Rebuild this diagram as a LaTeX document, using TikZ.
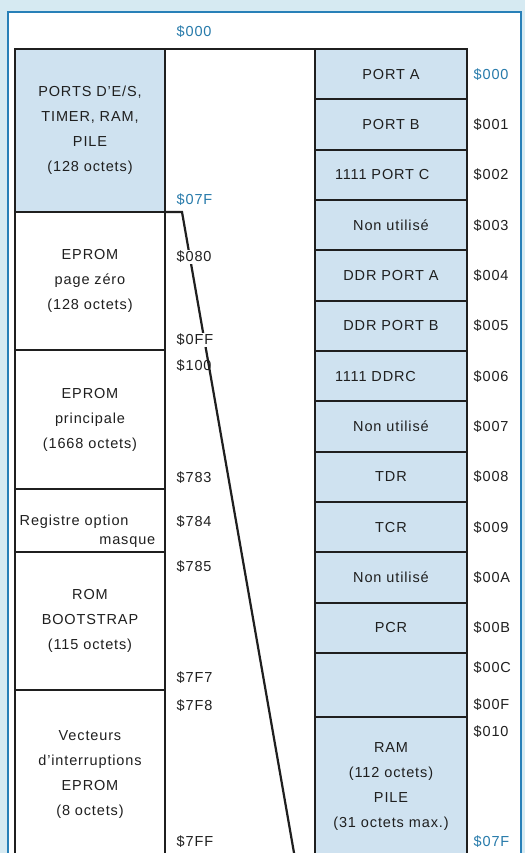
\documentclass[tikz,border=0pt]{standalone}
\usepackage{fontspec}
\setmainfont{Liberation Sans}[LetterSpace=6]
\usepackage{tikz}
\usetikzlibrary{positioning}
\definecolor{cellblue}{RGB}{207,226,240}
\definecolor{addrblue}{RGB}{38,122,170}
\definecolor{pageblue}{RGB}{214,234,242}
\definecolor{frameblue}{RGB}{40,128,184}

\begin{document}
\begin{tikzpicture}[
        % one unit = one pixel of the page, y running down
        x=1pt, y=-1pt,
        node distance=0pt,
        % Memory areas (left column): white, dark border, stacked
        area/.style = {rectangle, draw=black!88, line width=2.2pt, outer sep=0pt,
                       minimum width=150pt, text width=138pt, align=center,
                       font=\fontsize{14.5}{25}\selectfont, text=black!88},
        % Registers (right column): light blue cells
        cell/.style = {rectangle, draw=black!88, line width=2.2pt, outer sep=0pt, fill=cellblue,
                       minimum width=152pt, minimum height=50.33pt, align=center,
                       font=\fontsize{14.5}{25}\selectfont, text=black!88},
        bitcell/.style = {cell, text width=112pt, align=left},
        % Addresses
        addr/.style = {inner sep=1.5pt, font=\fontsize{14.5}{15}\selectfont, text=black!88},
        hiaddr/.style = {addr, text=addrblue},
        optlbl/.style = {inner sep=1.5pt, font=\fontsize{14.5}{15}\selectfont, text=black!88},
        % Zoom line from page zero to the register map
        zoomline/.style = {draw=black!88, line width=2.2pt}
    ]

    \useasboundingbox (0,0) rectangle (525,853);
    \clip (0,0) rectangle (525,853);
    \fill[pageblue] (0,0) rectangle (525,853);
    \draw[frameblue, line width=1.5pt, fill=white] (8,12) rectangle (521,900);

    % --- Left column: memory map ---
    \node[area, fill=cellblue, minimum height=163pt, anchor=north west] (io) at (15,49)
        {PORTS D'E/S,\\TIMER, RAM,\\PILE\\(128 octets)};
    \node[area, minimum height=138pt, below=of io] (page0) {EPROM\\page zéro\\(128 octets)};
    \node[area, minimum height=139pt, below=of page0] (main) {EPROM\\principale\\(1668 octets)};
    \node[area, minimum height=63pt, below=of main] (option) {};
    \node[optlbl, anchor=west] (regopt) at ([xshift=3pt, yshift=-1.5pt]option.west) {Registre option};
    \node[optlbl, anchor=east] (masque) at ([xshift=-8pt, yshift=-21.5pt]option.east) {masque};
    \node[area, minimum height=138pt, below=of option] (boot) {ROM\\BOOTSTRAP\\(115 octets)};
    \node[area, minimum height=170pt, below=of boot] (vectors)
        {Vecteurs\\d'interruptions\\EPROM\\(8 octets)};

    % --- Right column: page zero in detail ---
    \node[cell, anchor=north west] (porta) at (315,49) {PORT A};
    \node[cell, below=of porta] (portb) {PORT B};
    \node[bitcell, below=of portb] (portc) {1111 PORT C};
    \node[cell, below=of portc] (free3) {Non utilisé};
    \node[cell, below=of free3] (ddra) {DDR PORT A};
    \node[cell, below=of ddra] (ddrb) {DDR PORT B};
    \node[bitcell, below=of ddrb] (ddrc) {1111 DDRC};
    \node[cell, below=of ddrc] (free7) {Non utilisé};
    \node[cell, below=of free7] (tdr) {TDR};
    \node[cell, below=of tdr] (tcr) {TCR};
    \node[cell, below=of tcr] (freea) {Non utilisé};
    \node[cell, below=of freea] (pcr) {PCR};
    \node[cell, minimum height=64pt, below=of pcr] (spare) {};
    \node[cell, minimum height=140pt, below=of spare] (ram)
        {RAM\\(112 octets)\\PILE\\(31 octets max.)};

    % --- Top edge of the middle column ---
    \draw[zoomline] (io.north east) -- (porta.north west);

    % --- Zoom line ---
    \coordinate (kink) at (182,212);
    \coordinate (zoomend) at (315,973);
    \draw[zoomline] (io.south east) -- (kink) -- (zoomend);

    % --- Addresses, middle column ---
    \node[hiaddr, anchor=west] (m000) at (175,32) {\$000};
    \node[hiaddr, anchor=west] (m07f) at (175,200) {\$07F};
    \node[addr, anchor=west, fill=white] (m080) at (175,257) {\$080};
    \node[addr, anchor=west, fill=white] (m0ff) at (175,340) {\$0FF};
    \node[addr, anchor=west] (m100) at (175,366) {\$100};
    \node[addr, anchor=west] (m783) at (175,478) {\$783};
    \node[addr, anchor=west] (m784) at (175,522) {\$784};
    \node[addr, anchor=west] (m785) at (175,567) {\$785};
    \node[addr, anchor=west] (m7f7) at (175,678) {\$7F7};
    \node[addr, anchor=west] (m7f8) at (175,706) {\$7F8};
    \node[addr, anchor=west] (m7ff) at (175,842) {\$7FF};

    % --- Addresses, right column ---
    \node[hiaddr, right=5pt of porta] (r000) {\$000};
    \node[addr, right=5pt of portb] (r001) {\$001};
    \node[addr, right=5pt of portc] (r002) {\$002};
    \node[addr, right=5pt of free3] (r003) {\$003};
    \node[addr, right=5pt of ddra] (r004) {\$004};
    \node[addr, right=5pt of ddrb] (r005) {\$005};
    \node[addr, right=5pt of ddrc] (r006) {\$006};
    \node[addr, right=5pt of free7] (r007) {\$007};
    \node[addr, right=5pt of tdr] (r008) {\$008};
    \node[addr, right=5pt of tcr] (r009) {\$009};
    \node[addr, right=5pt of freea] (r00a) {\$00A};
    \node[addr, right=5pt of pcr] (r00b) {\$00B};
    \node[addr, anchor=west] (r00c) at ([xshift=5pt, yshift=-15pt]spare.north east) {\$00C};
    \node[addr, anchor=west] (r00f) at ([xshift=5pt, yshift=12pt]spare.south east) {\$00F};
    \node[addr, anchor=west] (r010) at ([xshift=5pt, yshift=-15pt]ram.north east) {\$010};
    \node[hiaddr, anchor=west] (r07f) at ([xshift=5pt, yshift=-125pt]ram.north east) {\$07F};

\end{tikzpicture}
\end{document}
